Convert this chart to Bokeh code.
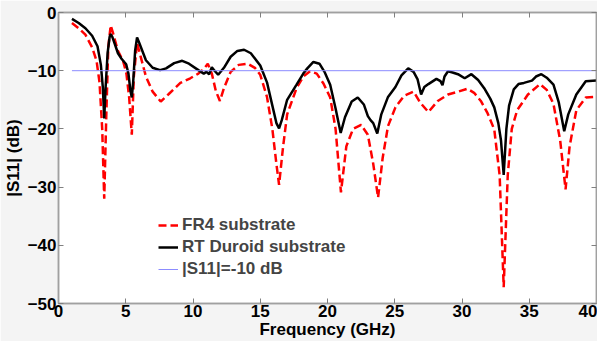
from bokeh.plotting import figure
from bokeh.models import LinearAxis, Legend, LegendItem, FixedTicker, Range1d
from bokeh.embed import file_html
from bokeh.resources import INLINE

# RT Duroid substrate (black solid)
rt_freq = [1.0, 1.5, 2.0, 2.5, 2.9, 3.15, 3.3, 3.4, 3.5, 3.65, 3.8, 3.88, 4.0, 4.2, 4.42, 4.7,
           5.03, 5.2, 5.35, 5.45, 5.55, 5.7, 5.84, 6.0, 6.5, 7.0, 7.55, 8.0, 8.6, 9.2, 9.7,
           10.4, 10.8, 11.0, 11.2, 11.4, 11.6, 11.87, 12.3, 12.8, 13.3, 13.8, 14.3, 15.0,
           15.5, 15.9, 16.2, 16.4, 16.6, 17.0, 17.7, 18.2, 18.5, 18.95, 19.4, 19.8, 20.2,
           20.6, 20.98, 21.3, 21.8, 22.25, 22.7, 23.0, 23.2, 23.4, 23.7, 24.0, 24.5, 25.05,
           25.5, 26.0, 26.4, 26.7, 26.96, 27.2, 27.5, 28.1, 28.4, 28.55, 28.7, 28.96, 29.3,
           29.7, 30.2, 30.7, 31.2, 31.65, 32.1, 32.4, 32.7, 32.9, 33.1, 33.3, 33.5, 33.85,
           34.2, 34.6, 35.2, 35.5, 35.9, 36.3, 36.8, 37.2, 37.6, 37.9, 38.5, 39.2, 40.0]
rt_s11 = [-1.1, -1.8, -2.7, -4.0, -5.8, -9.0, -13.0, -18.2, -13.0, -7.0, -4.2, -3.7, -4.2, -5.5, -7.0, -8.0,
          -8.9, -10.5, -13.5, -14.6, -12.0, -6.5, -4.3, -5.2, -8.2, -9.5, -9.9, -9.6, -8.7, -8.3, -8.8,
          -9.9, -10.5, -10.2, -10.6, -9.4, -10.0, -10.7, -9.5, -7.6, -6.6, -6.4, -7.0, -9.1,
          -12.0, -16.0, -19.0, -19.9, -18.5, -15.0, -12.4, -10.5, -9.6, -8.5, -8.8, -10.3, -12.4,
          -16.5, -20.7, -18.0, -15.3, -14.6, -15.8, -17.8, -18.5, -19.0, -20.8, -17.5, -14.5, -12.8,
          -10.8, -9.6, -10.2, -11.5, -14.1, -12.8, -12.3, -11.4, -11.8, -12.5, -11.0, -10.1, -10.3,
          -10.6, -11.3, -10.6, -11.6, -13.0, -14.8, -16.3, -19.0, -22.0, -27.9, -20.0, -16.0, -13.2,
          -12.3, -12.1, -11.7, -11.0, -10.6, -11.2, -12.4, -15.5, -20.4, -17.5, -14.1, -11.8, -11.7]

# FR4 substrate (red dashed)
fr4_freq = [1.0, 1.5, 2.0, 2.5, 2.83, 3.05, 3.25, 3.4, 3.55, 3.7, 3.88, 4.05, 4.42, 4.8, 5.05, 5.25,
            5.45, 5.6, 5.84, 6.1, 6.5, 7.0, 7.6, 8.2, 9.06, 9.8, 10.4, 10.8, 11.1, 11.4, 11.7, 12.0,
            12.3, 12.8, 13.4, 14.07, 14.6, 15.0, 15.5, 15.9, 16.2, 16.4, 16.7, 17.0, 17.7, 18.2,
            18.7, 19.2, 19.7, 20.2, 20.6, 21.0, 21.4, 21.9, 22.5, 23.0, 23.4, 23.76, 24.1, 24.5,
            25.05, 25.7, 26.4, 26.9, 27.5, 28.2, 28.96, 29.7, 30.4, 30.9, 31.4, 31.9, 32.4, 32.8,
            33.1, 33.4, 33.7, 34.1, 34.9, 35.8, 36.3, 36.8, 37.3, 37.7, 38.0, 38.5, 39.2, 40.0]
fr4_s11 = [-1.8, -2.7, -3.8, -6.0, -8.3, -12.0, -20.0, -32.0, -18.0, -6.0, -2.2, -3.5, -6.6, -8.3, -10.5, -14.5,
           -21.0, -11.0, -5.2, -7.5, -11.0, -13.6, -15.3, -14.0, -12.1, -11.3, -10.5, -9.7, -8.8, -10.5, -13.5, -15.2,
           -13.0, -10.2, -9.0, -8.8, -9.5, -10.7, -14.5, -20.0, -26.0, -29.6, -23.0, -17.5, -13.0, -11.0,
           -10.1, -10.5, -12.2, -14.6, -20.0, -30.9, -23.0, -20.0, -19.3, -21.0, -26.0, -31.8, -25.0, -19.5,
           -16.3, -14.3, -13.6, -15.5, -17.1, -15.2, -14.1, -13.6, -13.1, -13.8, -15.2, -17.3, -20.1, -28.0,
           -47.2, -28.0, -20.0, -16.8, -14.1, -12.3, -13.3, -15.7, -22.0, -30.4, -23.0, -16.8, -14.6, -14.5]

# -10 dB reference line
ref_freq = [1.0, 40.0]
ref_s11 = [-10.0, -10.0]

x_ticks = [0, 5, 10, 15, 20, 25, 30, 35, 40]
y_ticks = [0, -10, -20, -30, -40, -50]

FONT = "Liberation Sans"
FS = "17px"

p = figure(width=597, height=341, output_backend="svg", toolbar_location=None,
           x_range=Range1d(0, 40), y_range=Range1d(-50, 0),
           min_border_left=50, min_border_right=1, min_border_top=12, min_border_bottom=36)
p.border_fill_color = "#f4f4f4"
p.background_fill_color = "white"
p.outline_line_color = "#a0a0a0"
p.outline_line_width = 1.5
p.xgrid.visible = False
p.ygrid.visible = False

def style_axis(ax, labels=True):
    ax.axis_line_color = "#a0a0a0"
    ax.axis_line_width = 1.5
    ax.major_tick_line_color = "#808080"
    ax.major_tick_in = 5
    ax.major_tick_out = 0
    ax.minor_tick_line_color = None
    ax.major_label_text_font = FONT
    ax.major_label_text_font_style = "bold"
    ax.major_label_text_font_size = FS
    ax.major_label_text_color = "black"
    ax.axis_label_text_font = FONT
    ax.axis_label_text_font_style = "bold"
    ax.axis_label_text_font_size = FS
    ax.axis_label_text_color = "black"
    if not labels:
        ax.major_label_text_font_size = "0px"
        ax.major_label_text_alpha = 0

p.xaxis.ticker = FixedTicker(ticks=x_ticks)
p.yaxis.ticker = FixedTicker(ticks=y_ticks)
p.xaxis.axis_label = "Frequency (GHz)"
p.yaxis.axis_label = "|S11| (dB)"
p.xaxis.axis_label_standoff = 0
p.yaxis.axis_label_standoff = 2
p.xaxis.major_label_standoff = 1
p.yaxis.major_label_standoff = 2
style_axis(p.xaxis[0])
style_axis(p.yaxis[0])

top = LinearAxis(ticker=FixedTicker(ticks=x_ticks))
right = LinearAxis(ticker=FixedTicker(ticks=y_ticks))
style_axis(top, labels=False)
style_axis(right, labels=False)
top.major_label_standoff = 0
right.major_label_standoff = 0
p.add_layout(top, "above")
p.add_layout(right, "right")

r_fr4 = p.line(fr4_freq, fr4_s11, line_color="#ff0000", line_width=2.5, line_dash="8 4")
r_rt = p.line(rt_freq, rt_s11, line_color="black", line_width=2.5)
r_ref = p.line(ref_freq, ref_s11, line_color="#8c8cff", line_width=1)

legend = Legend(items=[
    LegendItem(label="FR4 substrate", renderers=[r_fr4]),
    LegendItem(label="RT Duroid substrate", renderers=[r_rt]),
    LegendItem(label="|S11|=-10 dB", renderers=[r_ref]),
], location=(98, 22))
legend.background_fill_alpha = 0
legend.border_line_alpha = 0
legend.label_text_font = FONT
legend.label_text_font_style = "bold"
legend.label_text_font_size = FS
legend.glyph_width = 20
legend.glyph_height = 20
legend.label_height = 20
legend.spacing = 2
legend.padding = 2
legend.margin = 0
legend.label_standoff = 4
p.add_layout(legend, "center")

open("out.html", "w").write(file_html(p, INLINE))
